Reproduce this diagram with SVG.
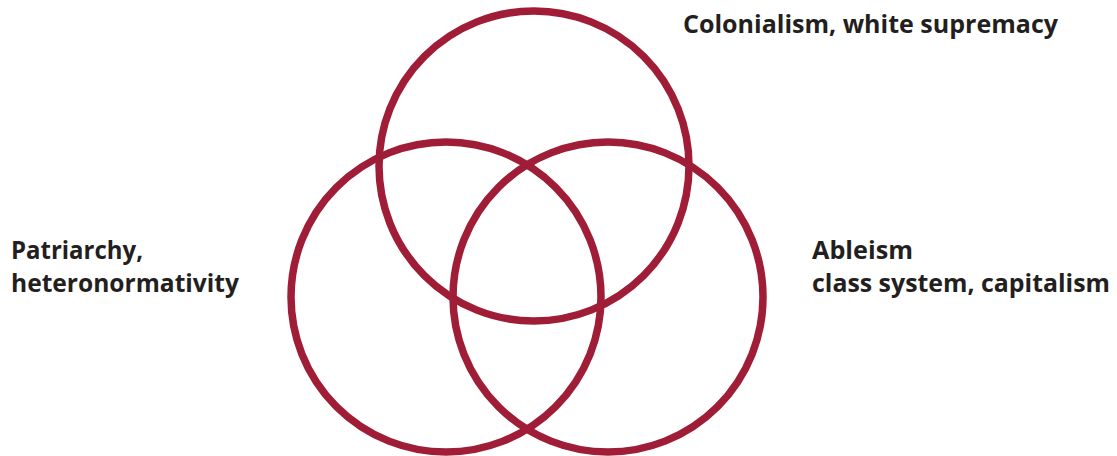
<svg xmlns="http://www.w3.org/2000/svg" width="1117" height="456" viewBox="0 0 1117 456">
<style>
.c{fill:none;stroke:#9f1d36;stroke-width:7.5}
.t{font-family:"Open Sans","Liberation Sans",sans-serif;font-weight:700;font-size:25px;fill:#231f20}
</style>
<rect width="1117" height="456" fill="#fff"/>
<g id="colonialism">
<circle class="c" cx="534" cy="166" r="155"/>
<text class="t" x="683" y="33" textLength="375" lengthAdjust="spacingAndGlyphs">Colonialism, white supremacy</text>
</g>
<g id="patriarchy">
<circle class="c" cx="446" cy="297" r="155"/>
<text class="t" x="11" y="259" textLength="132" lengthAdjust="spacingAndGlyphs">Patriarchy,</text>
<text class="t" x="11" y="292" textLength="228" lengthAdjust="spacingAndGlyphs">heteronormativity</text>
</g>
<g id="ableism">
<circle class="c" cx="608" cy="297" r="155"/>
<text class="t" x="812" y="259" textLength="101" lengthAdjust="spacingAndGlyphs">Ableism</text>
<text class="t" x="812" y="292" textLength="298" lengthAdjust="spacingAndGlyphs">class system, capitalism</text>
</g>
<g id="connectors"/>
</svg>
